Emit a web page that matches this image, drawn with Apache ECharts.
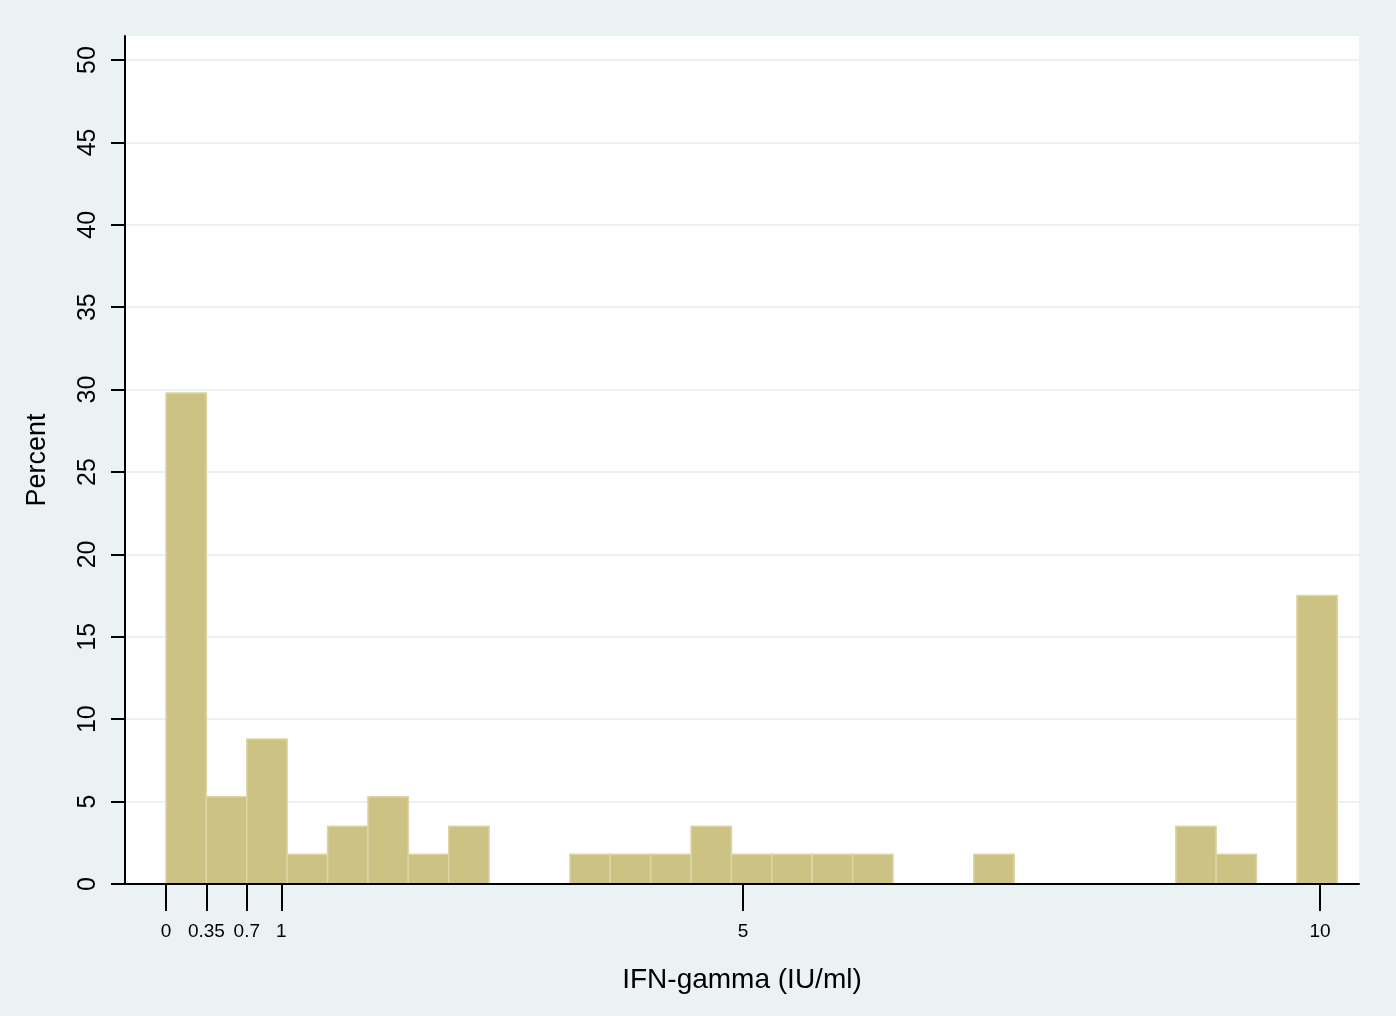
<!DOCTYPE html>
<html>
<head>
<meta charset="utf-8">
<script src="https://cdn.jsdelivr.net/npm/echarts@6/dist/echarts.min.js"></script>
<style>
  html, body { margin: 0; padding: 0; background: #eaf2f3; }
  #chart { width: 1396px; height: 1016px; }
</style>
</head>
<body>
<div id="chart"></div>
<script>
// histogram bins (IU/ml), bin width 0.35
const binWidth = 0.35;
const binStart = [0, 0.35, 0.7, 1.05, 1.4, 1.75, 2.1, 2.45, 3.5, 3.85, 4.2, 4.55, 4.9, 5.25, 5.6, 5.95, 7.0, 8.75, 9.1, 9.8];
const percent = [29.8, 5.3, 8.8, 1.8, 3.5, 5.3, 1.8, 3.5, 1.8, 1.8, 1.8, 3.5, 1.8, 1.8, 1.8, 1.8, 1.8, 3.5, 1.8, 17.5];

const xTicks = [0, 0.35, 0.7, 1, 5, 10];
const yTicks = [0, 5, 10, 15, 20, 25, 30, 35, 40, 45, 50];

const font = 'Liberation Sans, Arial, sans-serif';

const bins = binStart.map((s, i) => [s, s + binWidth, percent[i]]);

const chart = echarts.init(document.getElementById('chart'));

chart.setOption({
  backgroundColor: '#eaf2f3',
  animation: false,
  grid: {
    left: 125,
    right: 37,
    top: 36,
    bottom: 132,
    show: true,
    backgroundColor: '#ffffff',
    borderWidth: 0
  },
  xAxis: {
    type: 'value',
    min: -0.3553,
    max: 10.338,
    z: 5,
    name: 'IFN-gamma (IU/ml)',
    nameLocation: 'middle',
    nameGap: 82,
    nameTextStyle: { fontFamily: font, fontSize: 28, color: '#000' },
    axisLine: { onZero: false, lineStyle: { color: '#000', width: 2 } },
    axisTick: { customValues: xTicks, length: 27, lineStyle: { color: '#000', width: 2 } },
    axisLabel: { customValues: xTicks, margin: 38, fontFamily: font, fontSize: 19, color: '#000' },
    splitLine: { show: false }
  },
  yAxis: {
    type: 'value',
    min: 0,
    max: 51.456,
    interval: 5,
    z: 0,
    name: 'Percent',
    nameLocation: 'middle',
    nameGap: 74,
    nameTextStyle: { fontFamily: font, fontSize: 27, color: '#000' },
    axisLine: { show: true, onZero: false, lineStyle: { color: '#000', width: 2 } },
    axisTick: { show: true, customValues: yTicks, length: 14, lineStyle: { color: '#000', width: 2 } },
    axisLabel: { customValues: yTicks, rotate: 90, margin: 24, fontFamily: font, fontSize: 25, color: '#000' },
    splitLine: { show: true, lineStyle: { color: '#eaf2f3', width: 2 } }
  },
  series: [{
    type: 'custom',
    z: 2,
    encode: { x: [0, 1], y: 2 },
    data: bins,
    renderItem: function (params, api) {
      const p0 = api.coord([api.value(0), api.value(2)]);
      const p1 = api.coord([api.value(1), 0]);
      return {
        type: 'rect',
        shape: { x: p0[0], y: p0[1], width: p1[0] - p0[0], height: p1[1] - p0[1] },
        style: { fill: '#cbc283', stroke: '#ddd6a4', lineWidth: 1.5 }
      };
    }
  }]
});
</script>
</body>
</html>
